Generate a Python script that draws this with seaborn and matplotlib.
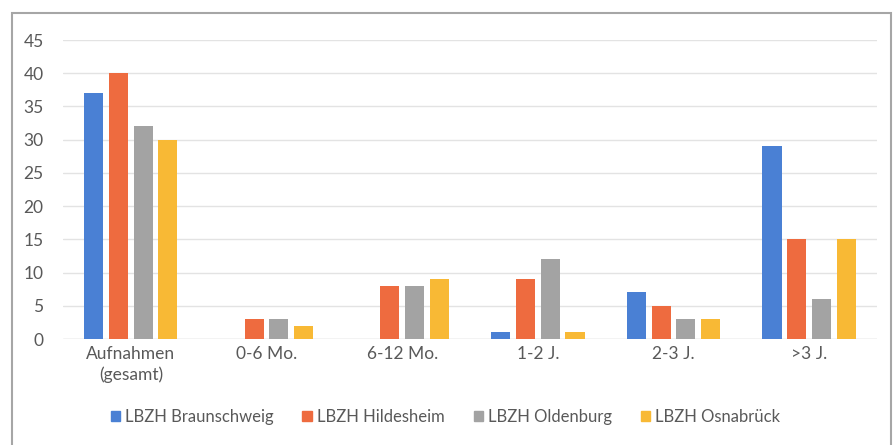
import matplotlib.pyplot as plt
import matplotlib.patches as mpatches
import pandas as pd
import seaborn as sns

categories = ['Aufnahmen\n(gesamt)', '0-6 Mo.', '6-12 Mo.', '1-2 J.', '2-3 J.', '>3 J.']
braunschweig = [37, 0, 0, 1, 7, 29]
hildesheim = [40, 3, 8, 9, 5, 15]
oldenburg = [32, 3, 8, 12, 3, 6]
osnabrueck = [30, 2, 9, 1, 3, 15]
series_names = ['LBZH Braunschweig', 'LBZH Hildesheim', 'LBZH Oldenburg', 'LBZH Osnabrück']
colors = ['#4a80d4', '#ee6b3f', '#a3a3a3', '#f8b935']

# build a long table for seaborn
rows = []
for name, vals in zip(series_names, [braunschweig, hildesheim, oldenburg, osnabrueck]):
    for cat, v in zip(categories, vals):
        rows.append({'Kategorie': cat, 'Anzahl': v, 'Standort': name})
df = pd.DataFrame(rows)

sns.set_style('white')
plt.rcParams['font.family'] = ['Lato', 'DejaVu Sans']

fig = plt.figure(figsize=(8.96, 4.45), dpi=100)
ax = fig.add_axes([0.0703, 0.2382, 0.9085, 0.6719])

sns.barplot(data=df, x='Kategorie', y='Anzahl', hue='Standort',
            palette=colors, width=0.73, gap=0.23, saturation=1,
            linewidth=0, legend=False, ax=ax)

ax.set_ylim(0, 45)
ax.set_xlim(-0.5, len(categories) - 0.5)
ax.set_yticks(range(0, 46, 5))
ax.yaxis.grid(True, color='#e3e3e3', linewidth=1)
ax.set_axisbelow(True)
for s in ax.spines.values():
    s.set_visible(False)
ax.axhline(0, color='#d9d9d9', linewidth=1, zorder=0.5)
ax.set_xlabel('')
ax.set_ylabel('')
ax.tick_params(axis='both', length=0, labelsize=12.5, labelcolor='#595959')
ax.tick_params(axis='y', pad=14)
ax.tick_params(axis='x', pad=5)
for lbl in ax.get_xticklabels():
    lbl.set_linespacing(1.35)

# legend below the plot
handles = [mpatches.Patch(color=c, label=n) for c, n in zip(colors, series_names)]
fig.legend(handles=handles, loc='center', bbox_to_anchor=(0.497, 0.063), ncol=4,
           frameon=False, fontsize=12, labelcolor='#595959',
           handlelength=0.55, handleheight=0.55, handletextpad=0.3,
           columnspacing=1.75)

# outer chart frame
fig.patches.append(mpatches.Rectangle((0.0135, -0.02), 0.981, 0.991,
                                      transform=fig.transFigure, fill=False,
                                      edgecolor='#a6a6a6', linewidth=1.5))

plt.savefig('out.png', dpi=100)
